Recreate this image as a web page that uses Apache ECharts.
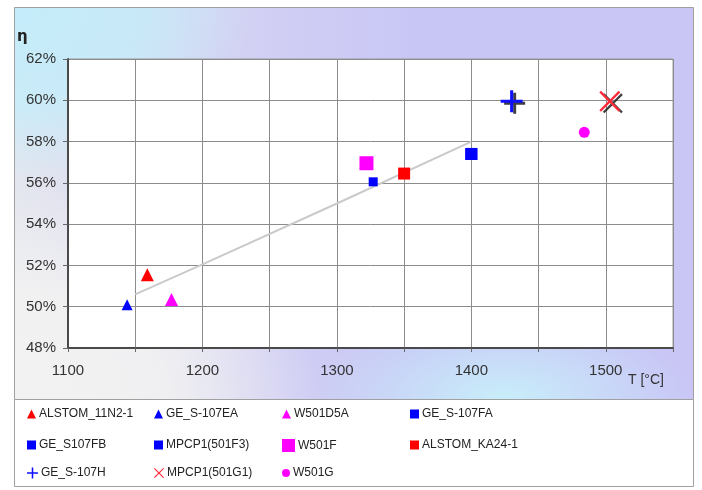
<!DOCTYPE html>
<html>
<head>
<meta charset="utf-8">
<script src="https://cdn.jsdelivr.net/npm/echarts@6/dist/echarts.min.js"></script>
<style>
  html, body { margin: 0; padding: 0; background: #ffffff; }
  #wrap { position: relative; width: 702px; height: 490px; }
  #bg {
    position: absolute; left: 14px; top: 7px; width: 679px; height: 392px;
    background:
      radial-gradient(ellipse 45% 55% at 0% 100%, rgba(242,242,242,1) 0%, rgba(242,242,242,0.9) 50%, rgba(242,242,242,0) 100%),
      radial-gradient(ellipse 35% 45% at 0% 0%, rgba(196,236,250,1) 0%, rgba(196,236,250,0.8) 55%, rgba(196,236,250,0) 100%),
      radial-gradient(ellipse 28% 22% at 72% 100%, rgba(200,238,250,1) 0%, rgba(200,238,250,0) 100%),
      linear-gradient(to right, #e4e6ee 0%, #d2d0f3 35%, #c8c6f5 60%, #c9c6f5 100%);
  }
  #chart { position: absolute; left: 0; top: 0; width: 702px; height: 490px; }
</style>
</head>
<body>
<div id="wrap">
  <div id="bg"></div>
  <div id="chart"></div>
</div>
<script>
// ---- data ----
const seriesNames = ['ALSTOM_11N2-1', 'GE_S-107EA', 'W501D5A', 'GE_S-107FA',
                     'GE_S107FB', 'MPCP1(501F3)', 'W501F', 'ALSTOM_KA24-1',
                     'GE_S-107H', 'MPCP1(501G1)', 'W501G'];
const firingTemp = [1159, 1144, 1177, 1327, 1400, 1400, 1322, 1350, 1430, 1503, 1484];
const efficiency = [51.55, 50.1, 50.35, 56.05, 57.4, 57.4, 56.95, 56.45, 59.95, 59.95, 58.45];
const trendTemp = [1150, 1200, 1300, 1400];
const trendEff = [50.6, 52.05, 55.0, 58.0];
const xTicks = [1100, 1200, 1300, 1400, 1500];
const yTicks = [48, 50, 52, 54, 56, 58, 60, 62];

// ---- styles ----
const PLUS = 'path://M0,8.6H20V11.4H0Z M8.6,0H11.4V20H8.6Z';
const CROSS = 'path://M1.6,0L10,8.4L18.4,0L20,1.6L11.6,10L20,18.4L18.4,20L10,11.6L1.6,20L0,18.4L8.4,10L0,1.6Z';
const styles = [
  { symbol: 'triangle', color: '#ff0000', size: 13 },
  { symbol: 'triangle', color: '#0000ff', size: 11 },
  { symbol: 'triangle', color: '#ff00ff', size: 13 },
  { symbol: 'rect', color: '#0000ff', size: 9 },
  { symbol: 'rect', color: '#0000ff', size: 12 },
  { symbol: 'rect', color: '#0000ff', size: 12 },
  { symbol: 'rect', color: '#ff00ff', size: 14 },
  { symbol: 'rect', color: '#ff0000', size: 12 },
  { symbol: PLUS, color: '#1010ff', size: 22 },
  { symbol: CROSS, color: '#ff2a3a', size: 21 },
  { symbol: 'circle', color: '#ff00ff', size: 11 }
];
const legendIconSize = [9, 9, 9, 9, 9, 9, 13, 9, 11, 10, 8];

const chart = echarts.init(document.getElementById('chart'), null, { renderer: 'canvas' });

const series = [];
series.push({
  type: 'line', name: 'trend', silent: true, symbol: 'none', z: 1,
  data: trendTemp.map((t, i) => [t, trendEff[i]]),
  lineStyle: { color: '#cacaca', width: 2 }
});
// dark shadow strokes behind the plus and cross markers
[8, 9].forEach(i => {
  series.push({
    type: 'scatter', name: seriesNames[i] + ' shadow', silent: true, z: 2,
    symbol: styles[i].symbol, symbolSize: styles[i].size - 1, symbolOffset: [3, 2],
    itemStyle: { color: '#2a2a2a', opacity: 0.9 },
    data: [[firingTemp[i], efficiency[i]]]
  });
});
seriesNames.forEach((n, i) => {
  series.push({
    type: 'scatter', name: n, z: 3,
    symbol: styles[i].symbol, symbolSize: styles[i].size,
    itemStyle: { color: styles[i].color, opacity: 1 },
    data: [[firingTemp[i], efficiency[i]]]
  });
});

const colX = [27, 154, 282, 410];
const rowY = [408, 439, 467];
const legends = seriesNames.map((n, i) => ({
  left: colX[i % 4], top: rowY[Math.floor(i / 4)],
  orient: 'horizontal', padding: 0, selectedMode: false,
  itemWidth: legendIconSize[i], itemHeight: legendIconSize[i], itemGap: 2,
  textStyle: { fontFamily: 'Liberation Sans', fontSize: 12, color: '#222', padding: [0, 0, 0, -2] },
  data: [{ name: n, icon: styles[i].symbol, itemStyle: { color: styles[i].color } }]
}));

chart.setOption({
  animation: false,
  backgroundColor: 'transparent',
  textStyle: { fontFamily: 'Liberation Sans' },
  grid: {
    left: 68, top: 59, width: 605, height: 289, show: true,
    backgroundColor: '#ffffff', borderColor: '#9a9a9a', borderWidth: 1
  },
  legend: legends,
  xAxis: {
    type: 'value', min: 1100, max: 1550, interval: 50,
    axisLine: { show: true, onZero: false, lineStyle: { color: '#4a4a4a', width: 2 } },
    axisTick: { show: true, length: 4, lineStyle: { color: '#666' } },
    splitLine: { show: true, lineStyle: { color: '#8c8c8c', width: 1 } },
    axisLabel: {
      margin: 15, fontSize: 15, color: '#333', fontFamily: 'Liberation Sans',
      formatter: v => (xTicks.indexOf(v) >= 0 ? String(v) : '')
    }
  },
  yAxis: {
    type: 'value', min: 48, max: 62, interval: 2,
    axisLine: { show: true, onZero: false, lineStyle: { color: '#4a4a4a', width: 2 } },
    axisTick: { show: true, length: 5, lineStyle: { color: '#666' } },
    splitLine: { show: true, lineStyle: { color: '#8c8c8c', width: 1 } },
    axisLabel: {
      margin: 12, fontSize: 15, color: '#333', fontFamily: 'Liberation Sans',
      formatter: v => (yTicks.indexOf(v) >= 0 ? v + '%' : '')
    }
  },
  graphic: [
    { type: 'rect', shape: { x: 14.5, y: 7.5, width: 679, height: 392 },
      style: { fill: 'none', stroke: '#a0a0a0', lineWidth: 1 }, z: -1 },
    { type: 'rect', shape: { x: 14.5, y: 399.5, width: 679, height: 87 },
      style: { fill: '#ffffff', stroke: '#a0a0a0', lineWidth: 1 }, z: -1 },
    { type: 'text', left: 17, top: 30,
      style: { text: 'η', font: 'bold 15px "DejaVu Sans"', fill: '#222' } },
    { type: 'text', left: 628, top: 373,
      style: { text: 'T [°C]', font: '14px "Liberation Sans"', fill: '#333' } }
  ],
  series: series
});
</script>
</body>
</html>
